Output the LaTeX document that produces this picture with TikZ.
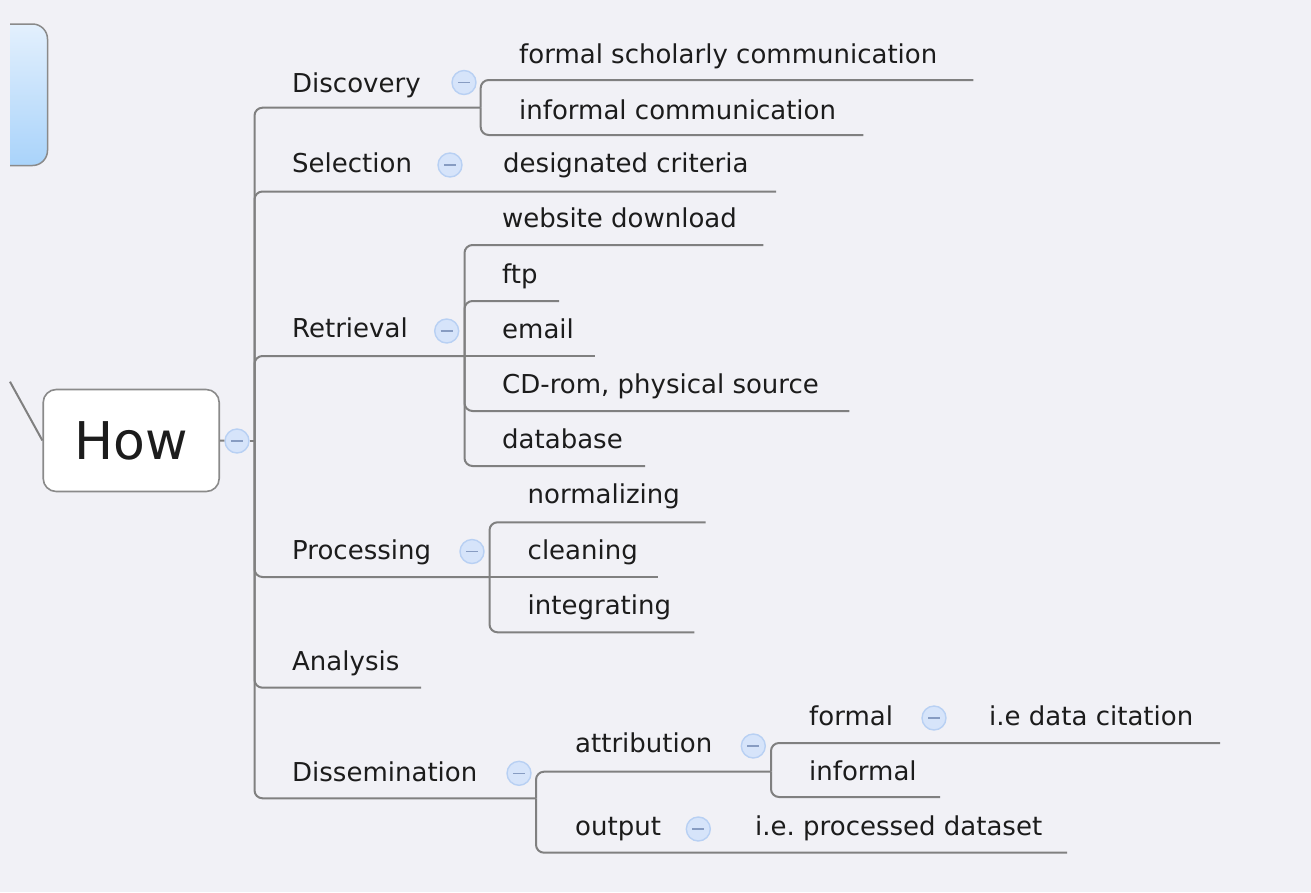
\documentclass[tikz,border=0pt]{standalone}
\usepackage{fontspec}
\setmainfont{DejaVu Sans}
\frenchspacing
\definecolor{bg}{RGB}{241,241,246}
\definecolor{lncol}{RGB}{128,128,128}
\definecolor{txtcol}{RGB}{28,28,28}
\definecolor{iconfill}{RGB}{214,228,250}
\definecolor{iconborder}{RGB}{184,208,243}
\definecolor{minuscol}{RGB}{135,156,194}
\definecolor{boxtop}{RGB}{227,240,253}
\definecolor{boxbot}{RGB}{169,211,250}
\definecolor{boxborder}{RGB}{138,138,138}
\tikzset{
  txt/.style={anchor=base west, inner sep=0pt, text=txtcol, font=\fontsize{26}{30}\selectfont},
  conn/.style={draw=lncol, line width=2pt, rounded corners=8pt},
  icon/.style={circle, minimum size=24pt, inner sep=0pt, fill=iconfill, draw=iconborder, line width=1.4pt,
    path picture={\draw[minuscol, line width=1.6pt] ([xshift=-6pt]path picture bounding box.center) -- ([xshift=6pt]path picture bounding box.center);}},
  howbox/.style={draw=boxborder, fill=white, line width=1.6pt, rounded corners=13pt, inner sep=0pt,
    minimum width=176pt, minimum height=102pt, text=txtcol, font=\fontsize{52}{60}\selectfont},
}
\begin{document}
\begin{tikzpicture}[x=1pt, y=-1pt]
\fill[bg] (0,0) rectangle (1311,892);
\useasboundingbox (0,0) rectangle (1311,892);

% partially visible parent box
\begin{scope}
  \clip (10,0) rectangle (1311,892);
  \shade[top color=boxtop, bottom color=boxbot, draw=boxborder, line width=1.5pt, rounded corners=15pt]
    (-20,24) rectangle (47.5,165.5);
\end{scope}

% How node
\node[howbox] (how) at (131.2,440.5) {How};
\coordinate (incoming) at (10,381.7);
\draw[conn] (incoming) -- (how.west);

% junctions
\coordinate (jhow) at (254.5,441);
\node[icon] (ihow) at (237,441) {};
\draw[conn] (how.east) -- (ihow);
\draw[conn] (ihow) -- (jhow);

% main children
\node[txt] (disc) at (292,92) {Discovery};
\node[txt] (sel) at (292,172) {Selection};
\node[txt] (ret) at (292,337) {Retrieval};
\node[txt] (proc) at (292,559.3) {Processing};
\node[txt] (ana) at (292,670) {Analysis};
\node[txt] (diss) at (292,781) {Dissemination};

\coordinate (jdisc) at (480.7,107.7);
\coordinate (esel) at (776,191.5);
\coordinate (jret) at (464.5,356);
\coordinate (jproc) at (489.5,577);
\coordinate (eana) at (421,687.7);
\coordinate (jdiss) at (536,798.3);

\foreach \t in {jdisc,esel,jret,jproc,eana,jdiss}
  \draw[conn] (jhow) |- (\t);

% Discovery children
\node[icon] (idisc) at (464,82.5) {};
\node[txt] (fsc) at (519,63.3) {formal scholarly communication};
\node[txt] (ic) at (519,119) {informal communication};
\coordinate (efsc) at (973.3,80);
\coordinate (eic) at (863.3,135);
\draw[conn] (jdisc) |- (efsc);
\draw[conn] (jdisc) |- (eic);

% Selection child
\node[icon] (isel) at (450,165) {};
\node[txt] (dc) at (503,172) {designated criteria};

% Retrieval children
\node[icon] (iret) at (446.7,331) {};
\node[txt] (wd) at (502,227) {website download};
\node[txt] (ftp) at (502,283) {ftp};
\node[txt] (em) at (502,338) {email};
\node[txt] (cd) at (502,393) {CD-rom, physical source};
\node[txt] (db) at (502,448.3) {database};
\coordinate (ewd) at (763.3,245);
\coordinate (eftp) at (559,301);
\coordinate (eem) at (595,356);
\coordinate (ecd) at (849.3,411);
\coordinate (edb) at (645,466);
\foreach \t in {ewd,eftp,ecd,edb}
  \draw[conn] (jret) |- (\t);
\draw[conn] (jret) -- (eem);

% Processing children
\node[icon] (iproc) at (472,551.5) {};
\node[txt] (norm) at (527.5,503.5) {normalizing};
\node[txt] (clean) at (527.5,559.3) {cleaning};
\node[txt] (integ) at (527.5,614.3) {integrating};
\coordinate (enorm) at (705.7,522.3);
\coordinate (eclean) at (658.3,577);
\coordinate (einteg) at (694.3,632.3);
\draw[conn] (jproc) |- (enorm);
\draw[conn] (jproc) -- (eclean);
\draw[conn] (jproc) |- (einteg);

% Dissemination children
\node[icon] (idiss) at (519,773.3) {};
\node[txt] (attr) at (575,752) {attribution};
\node[txt] (out) at (575,835) {output};
\coordinate (jattr) at (771,771.7);
\coordinate (eout) at (1067,852.7);
\draw[conn] (jdiss) |- (jattr);
\draw[conn] (jdiss) |- (eout);

\node[icon] (iattr) at (753.3,746) {};
\node[txt] (formal) at (809,725) {formal};
\node[txt] (informal) at (809,780) {informal};
\coordinate (eformal) at (1220,743);
\coordinate (einformal) at (940,797);
\draw[conn] (jattr) |- (eformal);
\draw[conn] (jattr) |- (einformal);

\node[icon] (iformal) at (934,718) {};
\node[txt] (cit) at (989,725) {i.e data citation};

\node[icon] (iout) at (698.3,829) {};
\node[txt] (pd) at (755,835) {i.e. processed dataset};
\end{tikzpicture}
\end{document}
